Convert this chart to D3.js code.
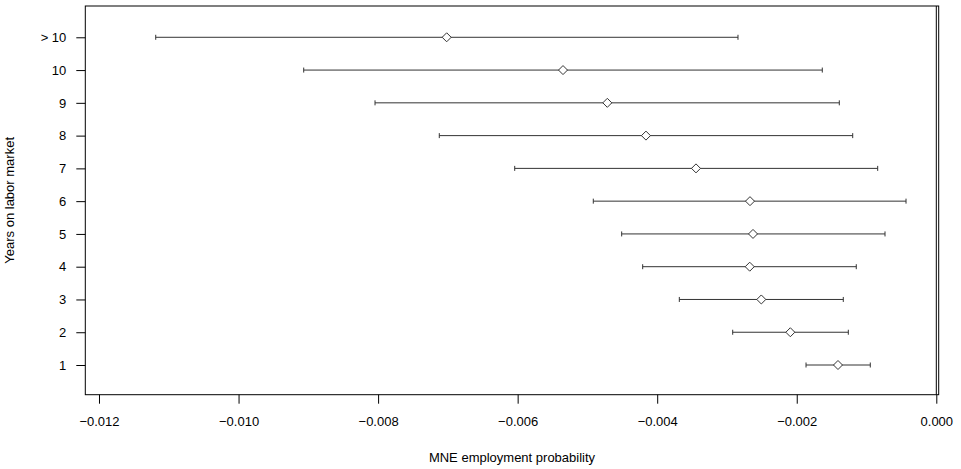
<!DOCTYPE html>
<html>
<head>
<meta charset="utf-8">
<script src="https://cdn.jsdelivr.net/npm/d3@7"></script>
<style>
  body { margin: 0; background: #fff; }
  svg { display: block; }
  text { font-family: "Liberation Sans", Arial, Helvetica, sans-serif; fill: #000; }
</style>
</head>
<body>
<svg id="chart"></svg>
<script>
const d3 = window.d3;

// Years on labor market, bottom to top
const categories = ["1", "2", "3", "4", "5", "6", "7", "8", "9", "10", "> 10"];
// point estimates
const estimates = [-0.001409, -0.002092, -0.002508, -0.002674, -0.002627, -0.002670,
                   -0.003444, -0.004161, -0.004715, -0.005350, -0.007017];
// confidence interval bounds
const lower = [-0.001867, -0.002918, -0.003683, -0.004208, -0.004509, -0.004916,
               -0.006042, -0.007123, -0.008044, -0.009066, -0.011187];
const upper = [-0.000946, -0.001261, -0.001333, -0.001147, -0.000735, -0.000434,
               -0.000840, -0.001198, -0.001390, -0.001634, -0.002842];
const xTicks = [-0.012, -0.010, -0.008, -0.006, -0.004, -0.002, 0.000];

const width = 961, height = 469;
const plot = { left: 85.3, right: 938.7, top: 6, bottom: 394.7 };

const svg = d3.select("#chart")
    .attr("width", width)
    .attr("height", height);

const x = d3.scaleLinear()
    .domain([-0.0121963, 0.0000344])
    .range([plot.left, plot.right]);

const y = d3.scaleLinear()
    .domain([0.094, 11.955])
    .range([plot.bottom, plot.top]);

const rows = categories.map((c, i) => ({
    label: c,
    pos: i + 1,
    est: estimates[i],
    lo: lower[i],
    hi: upper[i]
}));

// plot frame
svg.append("rect")
    .attr("x", plot.left)
    .attr("y", plot.top)
    .attr("width", plot.right - plot.left)
    .attr("height", plot.bottom - plot.top)
    .attr("fill", "none")
    .attr("stroke", "#000")
    .attr("stroke-width", 1);

// vertical reference line at zero
svg.append("line")
    .attr("x1", x(0)).attr("x2", x(0))
    .attr("y1", plot.top).attr("y2", plot.bottom)
    .attr("stroke", "#000")
    .attr("stroke-width", 1);

// x axis
const xAxis = d3.axisBottom(x)
    .tickValues(xTicks)
    .tickSize(9)
    .tickPadding(13)
    .tickFormat(d => d3.format(".3f")(d).replace("-", "\u2212"));

const gx = svg.append("g")
    .attr("transform", `translate(0,${plot.bottom})`)
    .call(xAxis);
gx.select(".domain").remove();
gx.selectAll(".tick line").attr("stroke", "#000");
gx.selectAll(".tick text").attr("font-size", 13).attr("dy", "0.71em");

// y axis
const yAxis = d3.axisLeft(y)
    .tickValues(rows.map(d => d.pos))
    .tickSize(9)
    .tickPadding(10)
    .tickFormat((d, i) => categories[i]);

const gy = svg.append("g")
    .attr("transform", `translate(${plot.left},0)`)
    .call(yAxis);
gy.select(".domain").remove();
gy.selectAll(".tick line").attr("stroke", "#000");
gy.selectAll(".tick text").attr("font-size", 13);

// error bars
const bars = svg.append("g")
    .attr("stroke", "#333")
    .attr("stroke-width", 1);

bars.selectAll("line.ci")
    .data(rows)
    .join("line")
    .attr("class", "ci")
    .attr("x1", d => x(d.lo))
    .attr("x2", d => x(d.hi))
    .attr("y1", d => y(d.pos))
    .attr("y2", d => y(d.pos));

bars.selectAll("line.caplo")
    .data(rows)
    .join("line")
    .attr("class", "caplo")
    .attr("x1", d => x(d.lo)).attr("x2", d => x(d.lo))
    .attr("y1", d => y(d.pos) - 2.5)
    .attr("y2", d => y(d.pos) + 2.5);

bars.selectAll("line.caphi")
    .data(rows)
    .join("line")
    .attr("class", "caphi")
    .attr("x1", d => x(d.hi)).attr("x2", d => x(d.hi))
    .attr("y1", d => y(d.pos) - 2.5)
    .attr("y2", d => y(d.pos) + 2.5);

// diamond markers
const diamond = "M0,-4.5L4.5,0L0,4.5L-4.5,0Z";
svg.append("g")
    .selectAll("path")
    .data(rows)
    .join("path")
    .attr("d", diamond)
    .attr("transform", d => `translate(${x(d.est)},${y(d.pos)})`)
    .attr("fill", "#fff")
    .attr("stroke", "#333")
    .attr("stroke-width", 1);

// axis titles
svg.append("text")
    .attr("x", (plot.left + plot.right) / 2)
    .attr("y", 462)
    .attr("text-anchor", "middle")
    .attr("font-size", 13)
    .text("MNE employment probability");

svg.append("text")
    .attr("transform", `translate(14,${(plot.top + plot.bottom) / 2}) rotate(-90)`)
    .attr("text-anchor", "middle")
    .attr("font-size", 13)
    .text("Years on labor market");
</script>
</body>
</html>
